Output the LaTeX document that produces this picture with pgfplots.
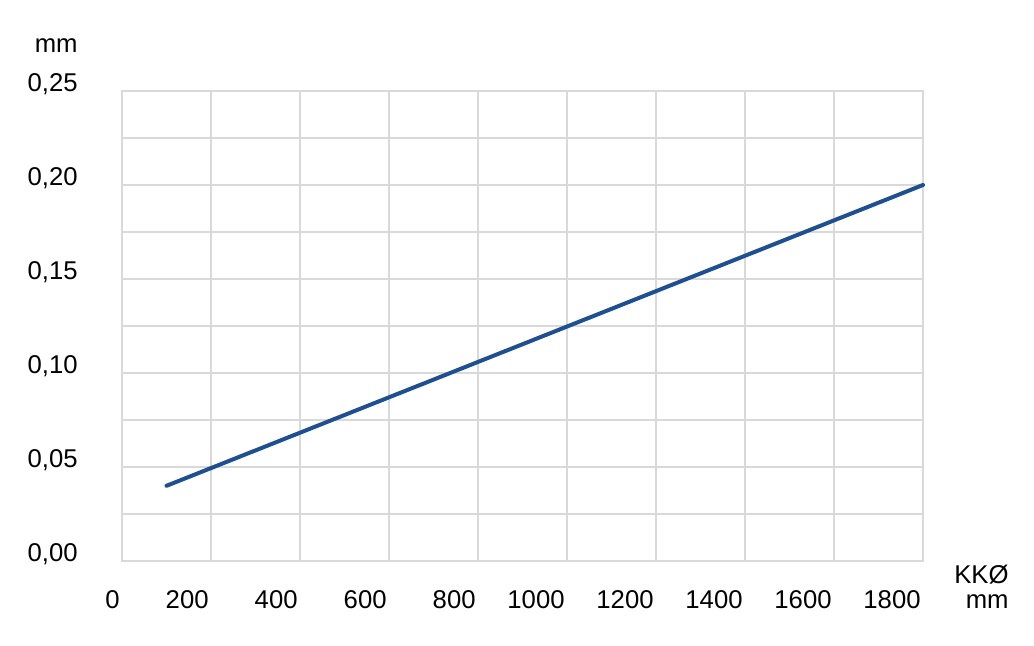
\documentclass[border=0pt]{standalone}
\usepackage{pgfplots}
\pgfplotsset{compat=1.18}
\usepackage{fontspec}
\setmainfont{Liberation Sans}
\definecolor{lineblue}{RGB}{30,80,145}
\definecolor{gridgray}{RGB}{217,217,217}
\begin{document}
\fontsize{12.85}{15}\selectfont
\begin{tikzpicture}
\useasboundingbox (-61pt,-42.5pt) rectangle (456pt,280.5pt);
\begin{axis}[
  scale only axis,
  width=400.5pt, height=235pt,
  xmin=0, xmax=1800, ymin=0, ymax=0.25,
  xtick={0,200,...,1800},
  ytick={0,0.05,...,0.25},
  minor ytick={0.025,0.075,...,0.225},
  xticklabels={0,200,400,600,800,1000,1200,1400,1600,1800},
  yticklabels={{0,00},{0,05},{0,10},{0,15},{0,20},{0,25}},
  grid=both,
  grid style={gridgray, line width=0.9pt},
  minor grid style={gridgray, line width=0.9pt},
  axis line style={gridgray, line width=0.9pt},
  major tick length=0pt, minor tick length=0pt,
  tick style={draw=none},
  xticklabel style={anchor=base east, inner sep=0pt, yshift=-24pt, xshift=-1pt},
  yticklabel style={anchor=base east, inner sep=0pt, xshift=-22pt, yshift=-0.5pt},
  clip=false,
]
\addplot[lineblue, line width=2pt, line cap=round] coordinates {(100,0.04) (1800,0.20)};
\node[anchor=base east, inner sep=0pt] at ([xshift=-22pt,yshift=19pt]rel axis cs:0,1) {mm};
\node[anchor=base east, inner sep=0pt] at ([xshift=43pt,yshift=-11.5pt]rel axis cs:1,0) {KKØ};
\node[anchor=base east, inner sep=0pt] at ([xshift=43pt,yshift=-24pt]rel axis cs:1,0) {mm};
\end{axis}
\end{tikzpicture}
\end{document}
